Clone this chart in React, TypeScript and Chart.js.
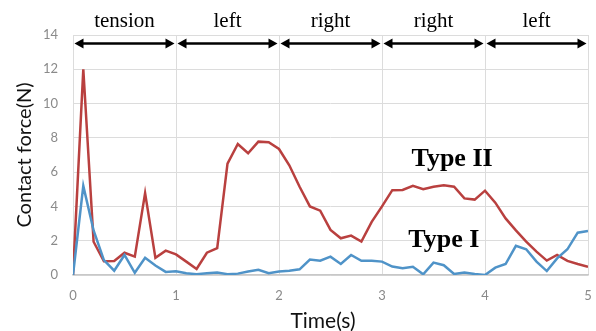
import React, { useEffect, useRef } from "react";
import { Chart, registerables } from "chart.js";

Chart.register(...registerables);

const TIMES = [
  0, 0.1, 0.2, 0.3, 0.4, 0.5, 0.6, 0.7, 0.8, 0.9,
  1, 1.1, 1.2, 1.3, 1.4, 1.5, 1.6, 1.7, 1.8, 1.9,
  2, 2.1, 2.2, 2.3, 2.4, 2.5, 2.6, 2.7, 2.8, 2.9,
  3, 3.1, 3.2, 3.3, 3.4, 3.5, 3.6, 3.7, 3.8, 3.9,
  4, 4.1, 4.2, 4.3, 4.4, 4.5, 4.6, 4.7, 4.8, 4.9,
  5,
];

const TYPE_II = [
  0, 12.0, 1.94, 0.8, 0.82, 1.3, 1.07, 4.78, 1.0, 1.42,
  1.2, 0.78, 0.35, 1.3, 1.57, 6.5, 7.64, 7.1, 7.78, 7.74,
  7.35, 6.4, 5.15, 4.0, 3.75, 2.63, 2.14, 2.3, 1.95, 3.1,
  4.0, 4.95, 4.96, 5.2, 5.0, 5.15, 5.23, 5.15, 4.47, 4.4,
  4.92, 4.22, 3.3, 2.6, 1.95, 1.36, 0.84, 1.17, 0.82, 0.64,
  0.48,
];

const TYPE_I = [
  0, 5.2, 2.6, 0.87, 0.25, 1.17, 0.13, 1.0, 0.55, 0.18,
  0.22, 0.1, 0.05, 0.1, 0.15, 0.05, 0.08, 0.2, 0.3, 0.1,
  0.2, 0.25, 0.33, 0.9, 0.83, 1.07, 0.64, 1.17, 0.83, 0.83,
  0.78, 0.49, 0.39, 0.48, 0.04, 0.72, 0.57, 0.06, 0.14, 0.06,
  0.0, 0.43, 0.64, 1.7, 1.5, 0.78, 0.23, 0.97, 1.5, 2.47,
  2.57,
];

const PHASES = ["tension", "left", "right", "right", "left"];
const PHASE_BOUNDS = [0, 1, 2, 3, 4, 5];
const ARROW_LEVEL = 13.5;

const SERIES_TAGS = [
  { text: "Type II", x: 3.68, y: 6.75 },
  { text: "Type I", x: 3.6, y: 2.0 },
];

const X_TITLE = "Time(s)";
const Y_TITLE = "Contact force(N)";

const Y_MAX = 14;
const Y_STEP = 2;
const X_MAX = 5;
const X_STEP = 1;

const RED = "#b9403f";
const BLUE = "#4f93c8";

const annotPlugin = {
  id: "annot",
  afterDraw(chart: any) {
    const { ctx, scales } = chart;
    const x = scales.x;
    const y = scales.y;
    ctx.save();
    const ay = y.getPixelForValue(ARROW_LEVEL);
    ctx.strokeStyle = "#000";
    ctx.fillStyle = "#000";
    ctx.lineWidth = 2.5;
    const headL = 9;
    const headW = 5;
    for (let i = 0; i < PHASES.length; i++) {
      const a = x.getPixelForValue(PHASE_BOUNDS[i]) + 1.5;
      const b = x.getPixelForValue(PHASE_BOUNDS[i + 1]) - 1.5;
      ctx.beginPath();
      ctx.moveTo(a + headL - 1, ay);
      ctx.lineTo(b - headL + 1, ay);
      ctx.stroke();
      ctx.beginPath();
      ctx.moveTo(a, ay);
      ctx.lineTo(a + headL, ay - headW);
      ctx.lineTo(a + headL, ay + headW);
      ctx.closePath();
      ctx.fill();
      ctx.beginPath();
      ctx.moveTo(b, ay);
      ctx.lineTo(b - headL, ay - headW);
      ctx.lineTo(b - headL, ay + headW);
      ctx.closePath();
      ctx.fill();
      ctx.font = '21px "Liberation Serif", "Times New Roman", serif';
      ctx.textAlign = "center";
      ctx.textBaseline = "alphabetic";
      ctx.fillText(PHASES[i], (a + b) / 2, 27);
    }
    ctx.font = 'bold 26px "Liberation Serif", "Times New Roman", serif';
    ctx.textAlign = "center";
    ctx.textBaseline = "middle";
    for (const t of SERIES_TAGS) {
      ctx.fillText(t.text, x.getPixelForValue(t.x), y.getPixelForValue(t.y));
    }
    // axis titles
    ctx.fillStyle = "#111";
    ctx.font = '21px "Lato", sans-serif';
    ctx.textAlign = "center";
    ctx.textBaseline = "middle";
    ctx.fillText(X_TITLE, 323, 321);
    ctx.translate(25, 155);
    ctx.rotate(-Math.PI / 2);
    ctx.font = '20px "Lato", sans-serif';
    ctx.fillText(Y_TITLE, 0, 0);
    ctx.restore();
  },
};

export default function App() {
  const ref = useRef<HTMLCanvasElement | null>(null);

  useEffect(() => {
    document.body.style.margin = "0";
    const canvas = ref.current;
    if (!canvas) return;
    const chart = new Chart(canvas, {
      type: "line",
      data: {
        datasets: [
          {
            label: "Type I",
            data: TIMES.map((t, i) => ({ x: t, y: TYPE_I[i] })),
            borderColor: BLUE,
            borderWidth: 2.5,
            pointRadius: 0,
            tension: 0,
            fill: false,
          },
          {
            label: "Type II",
            data: TIMES.map((t, i) => ({ x: t, y: TYPE_II[i] })),
            borderColor: RED,
            borderWidth: 2.5,
            pointRadius: 0,
            tension: 0,
            fill: false,
          },
        ],
      },
      options: {
        animation: false,
        responsive: false,
        maintainAspectRatio: false,
        layout: { padding: { top: 35, right: 8, left: 0, bottom: 0 } },
        plugins: {
          legend: { display: false },
          tooltip: { enabled: false },
        },
        scales: {
          x: {
            type: "linear",
            min: 0,
            max: X_MAX,
            ticks: {
              stepSize: X_STEP,
              color: "#8a8a8a",
              font: { family: "Lato", size: 13 },
              padding: 13,
              maxRotation: 0,
            },
            grid: { color: "#dcdcdc", drawTicks: false, lineWidth: 1 },
            border: { color: "#c8c8c8", width: 1.5 },
            afterFit(scale: any) {
              scale.height = 56;
              scale.paddingRight = 0;
              scale.paddingLeft = 0;
            },
          },
          y: {
            min: 0,
            max: Y_MAX,
            ticks: {
              stepSize: Y_STEP,
              color: "#8a8a8a",
              font: { family: "Lato", size: 13 },
              padding: 15,
            },
            grid: { color: "#dcdcdc", drawTicks: false, lineWidth: 1 },
            border: { display: false },
            afterFit(scale: any) {
              scale.width = 73;
              scale.paddingTop = 0;
              scale.paddingBottom = 0;
            },
          },
        },
      },
      plugins: [annotPlugin],
    });
    return () => chart.destroy();
  }, []);

  return (
    <div style={{ width: 596, height: 331, background: "#fff" }}>
      <canvas ref={ref} width={596} height={331} style={{ display: "block" }} />
    </div>
  );
}
